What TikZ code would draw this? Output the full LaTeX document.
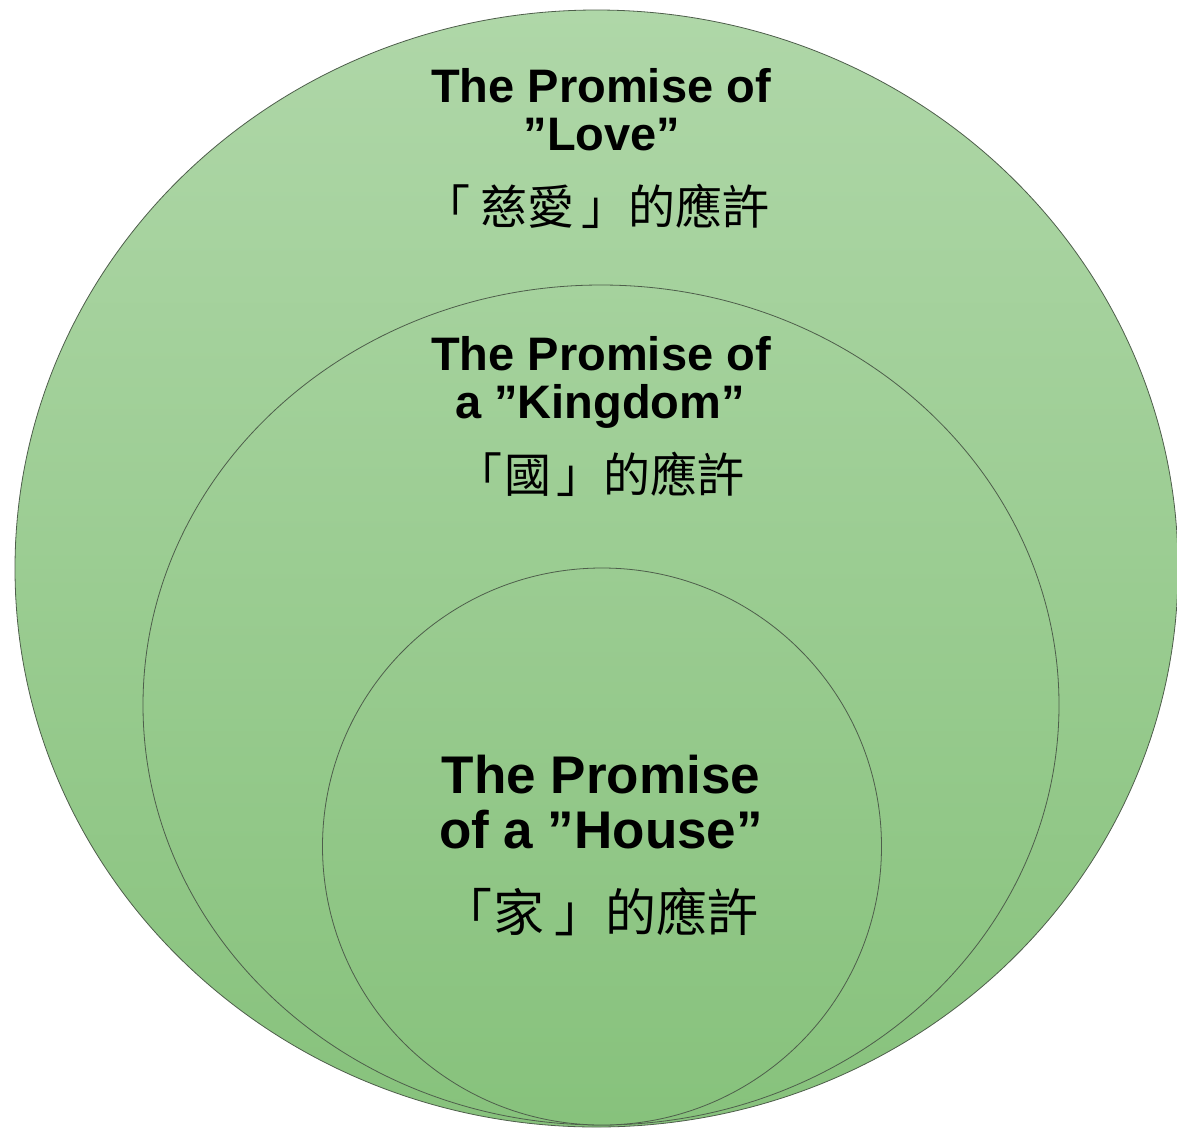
\documentclass[tikz,border=0pt]{standalone}
\usepackage{fontspec}
\setmainfont{Liberation Sans}
\newfontfamily\cjk{Noto Sans CJK TC}
\definecolor{gtop}{HTML}{AFD7A8}
\definecolor{gbot}{HTML}{87C27C}
\definecolor{gmidA}{HTML}{A5D29D}
\definecolor{gmidB}{HTML}{9BCC92}
\definecolor{edge}{HTML}{4E5E4B}
\tikzset{
  ring/.style={draw=edge, line width=0.8pt},
  entxt/.style={anchor=base, inner sep=0pt, font=\bfseries\fontsize{47}{48}\selectfont},
  enbig/.style={anchor=base, inner sep=0pt, font=\bfseries\fontsize{53}{55}\selectfont},
  zhtxt/.style={anchor=base east, inner sep=0pt, font=\cjk\fontsize{47}{48}\selectfont},
  zhbig/.style={anchor=base east, inner sep=0pt, font=\cjk\fontsize{51}{52}\selectfont}
}
\begin{document}
\begin{tikzpicture}[x=1pt,y=-1pt]
\useasboundingbox (0,0) rectangle (1177,1128);
% outer circle
\path[ring, top color=gtop, bottom color=gbot] (596.5,568.5) ellipse [x radius=581.5, y radius=558.5];
% middle circle
\path[ring, top color=gmidA, bottom color=gbot] (601,705) ellipse [x radius=458, y radius=420];
% inner circle
\path[ring, top color=gmidB, bottom color=gbot] (602,846.5) ellipse [x radius=279.5, y radius=278.5];
% texts
\node[entxt] (love1) at (601,102) {The Promise of};
\node[entxt] (love2) at (602,150) {”Love”};
\node[zhtxt] (lovezh) at (770,224) {「\kern10pt 慈愛\kern7pt 」的應許};
\node[entxt] (king1) at (601,370) {The Promise of};
\node[entxt] (king2) at (600,418) {a ”Kingdom”};
\node[zhtxt] (kingzh) at (745,492) {「\kern2pt 國\kern5pt 」的應許};
\node[enbig] (house1) at (601,793) {The Promise};
\node[enbig] (house2) at (601,848) {of a ”House”};
\node[zhbig] (housezh) at (759,931) {「\kern1pt 家\kern10pt 」的應許};
\end{tikzpicture}
\end{document}
